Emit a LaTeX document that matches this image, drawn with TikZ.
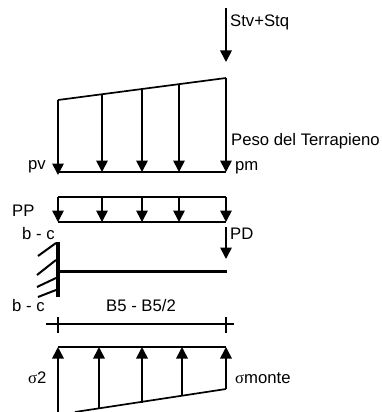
\documentclass[tikz,border=0pt]{standalone}
\usepackage{fontspec}
\setmainfont{Liberation Sans}
\newfontfamily\greekfont{Liberation Serif}
\usetikzlibrary{arrows.meta}
\tikzset{
  line/.style={line width=1.7pt},
  load/.style={line width=1.7pt,-{Triangle[width=11.5pt,length=11.5pt]}},
  lbl/.style={inner sep=0pt,font=\fontsize{16.7}{18}\selectfont,anchor=base west},
  hatch/.style={line width=2pt}
}
\begin{document}
\begin{tikzpicture}[x=1pt,y=-1pt]
\useasboundingbox (0,0) rectangle (381,412);
% top point load
\coordinate (s0) at (226,8); \coordinate (s1) at (226,62);
\draw[load] (s0) -- (s1);
\node[lbl] (stv) at (230,26.5) {Stv+Stq};
% earth pressure
\coordinate (t0) at (58,100); \coordinate (t1) at (102,94.5); \coordinate (t2) at (142,89);
\coordinate (t3) at (179,84); \coordinate (t4) at (226,78);
\coordinate (b0) at (58,175); \coordinate (b1) at (102,172); \coordinate (b2) at (142,172);
\coordinate (b3) at (179,172); \coordinate (b4) at (226,172);
\draw[line] (t0) -- (t4);
\draw[line] (58,172) -- (b4);
\foreach \i in {0,...,4} \draw[load] (t\i) -- (b\i);
\node[lbl] (peso) at (231,145) {Peso del Terrapieno};
\node[lbl] (pv) at (28,169) {pv};
\node[lbl] (pm) at (235,170) {pm};
% PP load
\coordinate (p0) at (58,197); \coordinate (p1) at (102,197); \coordinate (p2) at (142,197);
\coordinate (p3) at (179,197); \coordinate (p4) at (226,197);
\coordinate (q0) at (58,222); \coordinate (q1) at (102,222); \coordinate (q2) at (142,222);
\coordinate (q3) at (179,222); \coordinate (q4) at (226,222);
\draw[line] (p0) -- (p4);
\draw[line] (q0) -- (q4);
\foreach \i in {0,...,4} \draw[load] (p\i) -- (q\i);
\node[lbl] (pp) at (12,216.5) {PP};
\node[lbl] (bc1) at (22,239) {b - c};
% PD
\coordinate (d0) at (226,227); \coordinate (d1) at (226,259);
\draw[load] (d0) -- (d1);
\node[lbl] (pd) at (230,239) {PD};
% beam and wall
\coordinate (w0) at (57.5,242); \coordinate (w1) at (57.5,297); \coordinate (e) at (227,271);
\draw[line width=3pt] (58,271) -- (e);
\draw[line width=4pt] (w0) -- (w1);
\draw[hatch] (56,243) -- (38,256);
\draw[hatch] (56,260) -- (37,275);
\draw[hatch] (56,278) -- (37,287);
\draw[hatch] (56,290) -- (38,297);
\node[lbl] (bc2) at (12,311) {b - c};
% dimension
\node[lbl] (dim) at (106,311) {B5 - B5/2};
\coordinate (m0) at (46,324); \coordinate (m1) at (234,324);
\draw[line] (m0) -- (m1);
\draw[line] (58,317) -- (58,333);
\draw[line] (226,317) -- (226,333);
% soil reaction
\coordinate (u0) at (58,412); \coordinate (u1) at (99,409); \coordinate (u2) at (142,402.5);
\coordinate (u3) at (182,396); \coordinate (u4) at (226,389);
\coordinate (v0) at (58,347); \coordinate (v1) at (99,347); \coordinate (v2) at (142,347);
\coordinate (v3) at (182,347); \coordinate (v4) at (226,347);
\draw[line] (v0) -- (v4);
\draw[line] (75,412) -- (u4);
\foreach \i in {0,...,4} \draw[load] (u\i) -- (v\i);
\node[lbl] (s2) at (28,383) {{\greekfont σ}2};
\node[lbl] (sm) at (235,383) {{\greekfont σ}monte};
\end{tikzpicture}
\end{document}
